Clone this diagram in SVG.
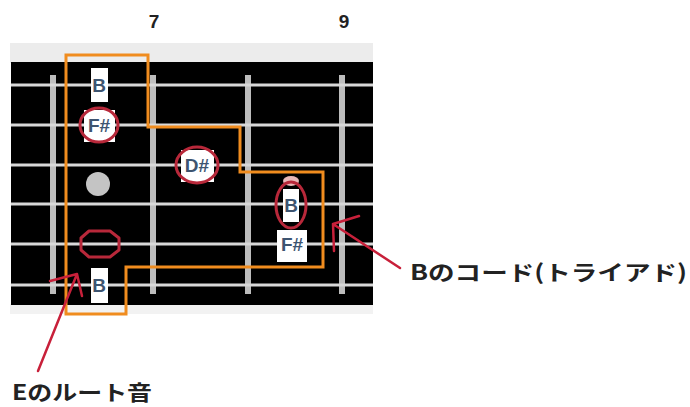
<svg xmlns="http://www.w3.org/2000/svg" width="690" height="407" viewBox="0 0 690 407">
<defs>
<style>
.str{stroke:#d8d8d8;stroke-width:3}
.fret{fill:#bdbdbd}
.lbl{fill:#fff}
.lt{font-family:"Liberation Sans",Arial,sans-serif;font-weight:bold;font-size:19px;fill:#3d5470;text-anchor:middle}
.ring{fill:none;stroke:#b8283a;stroke-width:3}
.num{font-family:"Liberation Sans",Arial,sans-serif;font-weight:bold;font-size:19px;fill:#222;text-anchor:middle}
.cap{font-family:"Noto Sans CJK JP","Liberation Sans",sans-serif;font-weight:bold;font-size:21px;fill:#222}
.arr{fill:none;stroke:#c8203a;stroke-width:2.5;stroke-linecap:round}
</style>
</defs>
<rect width="690" height="407" fill="#fff"/>
<g id="fretboard">
<rect x="10" y="43" width="363" height="20" fill="#ececec"/>
<rect x="10" y="304" width="363" height="10" fill="#f2f2f2"/>
<rect x="11" y="62" width="362" height="243" fill="#000"/>
<rect class="fret" x="50" y="75" width="6" height="219"/>
<rect class="fret" x="150" y="75" width="6" height="219"/>
<rect class="fret" x="245" y="75" width="6" height="219"/>
<rect class="fret" x="339" y="75" width="6" height="219"/>
<line class="str" x1="11" y1="85" x2="373" y2="85"/>
<line class="str" x1="11" y1="125" x2="373" y2="125"/>
<line class="str" x1="11" y1="165" x2="373" y2="165"/>
<line class="str" x1="11" y1="204" x2="373" y2="204"/>
<line class="str" x1="11" y1="244" x2="373" y2="244"/>
<line class="str" x1="11" y1="285" x2="373" y2="285"/>
<circle cx="98" cy="184" r="12" fill="#c4c4c4"/>
</g>
<g id="fret-numbers">
<text class="num" x="154" y="28">7</text>
<text class="num" x="344" y="28">9</text>
</g>
<g id="chord-outline">
<path d="M66 55 H148 V127 H240 V172 H323 V267 H126 V314 H66 Z" fill="none" stroke="#f08c1e" stroke-width="3"/>
</g>
<g id="note-B1"><rect class="lbl" x="91" y="68" width="17" height="34"/><text class="lt" x="99" y="92">B</text></g>
<g id="note-Fs1"><rect class="lbl" x="84" y="110" width="31" height="32"/><text class="lt" x="99" y="132">F#</text><ellipse class="ring" cx="99" cy="125" rx="19" ry="17"/></g>
<g id="note-Ds"><rect class="lbl" x="181" y="150" width="33" height="32"/><text class="lt" x="197" y="172">D#</text><ellipse class="ring" cx="197" cy="165" rx="21" ry="18"/></g>
<g id="note-B2"><ellipse cx="291" cy="181" rx="8" ry="5" fill="#e8b8b8"/><rect class="lbl" x="283" y="189" width="16" height="33"/><text class="lt" x="291" y="212">B</text><ellipse class="ring" cx="291" cy="205" rx="15" ry="23"/></g>
<g id="note-Fs2"><rect class="lbl" x="277" y="230" width="30" height="32"/><text class="lt" x="292" y="251">F#</text></g>
<g id="note-E-root"><path class="ring" d="M89 231 H110 L119 238 L119 250 L110 257 H89 L81 250 L81 238 Z" stroke-linejoin="round"/></g>
<g id="note-B3"><rect class="lbl" x="91" y="268" width="17" height="35"/><text class="lt" x="99" y="292">B</text></g>
<g id="connectors">
<path class="arr" d="M400 268 L333 224 M333 224 L359 216 M333 224 L334 251"/>
<path class="arr" d="M38 371 L77 274 M77 274 L50 281 M77 274 L82 296"/>
</g>
<g id="captions">
<text class="cap" x="410" y="280" textLength="277" lengthAdjust="spacingAndGlyphs">Bのコード(トライアド)</text>
<text class="cap" x="12" y="400" textLength="140" lengthAdjust="spacingAndGlyphs">Eのルート音</text>
</g>
</svg>
